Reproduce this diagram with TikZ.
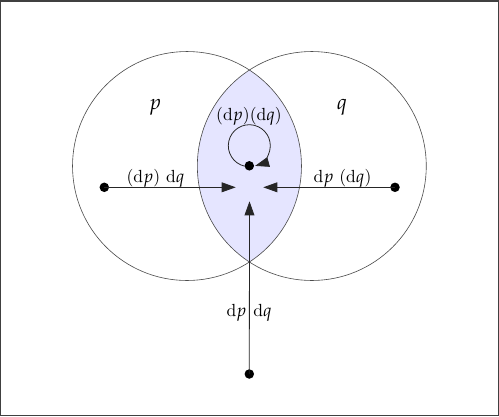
\documentclass[tikz,border=0pt]{standalone}
\usepackage{mathpazo}
\usetikzlibrary{arrows.meta}
\begin{document}
\begin{tikzpicture}[x=0.02cm,y=0.02cm,
  ring/.style={draw=black!70,line width=0.35pt},
  dotnode/.style={circle,fill=black,inner sep=0pt,minimum size=0.19cm},
  arr/.style={draw=black!85,line width=0.45pt,-{Triangle[length=8pt,width=5.6pt]}},
  lbl/.style={inner sep=1pt,font=\normalsize},
  big/.style={inner sep=1pt,font=\large}]
\useasboundingbox (0,0) rectangle (499,-416);
\fill[white] (0,0) rectangle (499,-416);
\draw[draw=black!75,line width=0.03cm] (0.75,-0.75) rectangle (498.25,-415.25);
% lens
\coordinate (cl) at (187,-166);
\coordinate (cr) at (311.8,-166);
\begin{scope}
  \clip (cl) circle[radius=2.29cm];
  \fill[blue!10] (cr) circle[radius=2.29cm];
\end{scope}
\draw[ring] (cl) circle[radius=2.29cm];
\draw[ring] (cr) circle[radius=2.29cm];
% labels of sets
\node[big] (p) at (155,-107) {$p$};
\node[big] (q) at (342,-107) {$q$};
% dots
\node[dotnode] (a) at (104.3,-187.3) {};
\node[dotnode] (b) at (395,-187.3) {};
\node[dotnode] (d) at (249.3,-374) {};
\node[dotnode] (c) at (249.3,-165.8) {};
\coordinate (t) at (249.5,-187.3);
\coordinate (lc) at (249.3,-145.7);
% arrows
\draw[arr,shorten >=0.275cm] (a.center) -- (t);
\draw[arr,shorten >=0.275cm] (b.center) -- (t);
\draw[arr,shorten >=0.28cm] (d.center) -- (t);
\draw[arr] ([shift={(257:0.42cm)}]lc) arc[start angle=257,end angle=-74,radius=0.42cm];
% arrow labels
\node[lbl] (la) at (155.5,-178) {(d$p$) d$q$};
\node[lbl] (lb) at (342.5,-178) {d$p$ (d$q$)};
\node[lbl] (lc1) at (249,-116) {(d$p$)(d$q$)};
\node[lbl] (ld1) at (236.5,-313) {d$p$};
\node[lbl] (ld2) at (262.5,-313) {d$q$};
\end{tikzpicture}
\end{document}
